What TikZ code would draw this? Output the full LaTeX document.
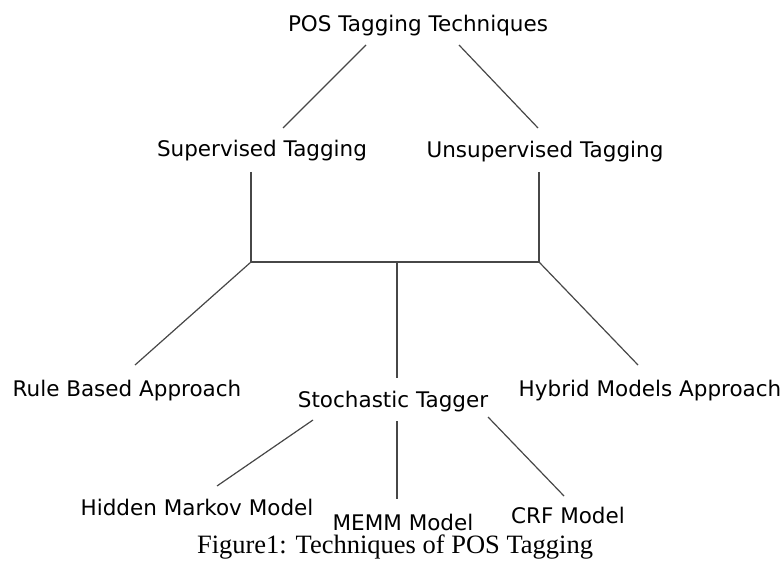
\documentclass[tikz,border=0pt]{standalone}
\usepackage{fontspec}
\setmainfont{DejaVu Sans}
\newfontfamily\capfont{Liberation Serif}
\begin{document}
\begin{tikzpicture}[x=1pt,y=-1pt,
  lbl/.style={anchor=base,inner sep=0pt,font=\fontsize{21.5}{25}\selectfont,text=black},
  conn/.style={draw=black!72,line width=1.2pt}]
\useasboundingbox (0,0) rectangle (781,561);
% text nodes
\node[lbl] (title) at (418,32) {POS Tagging Techniques};
\node[lbl] (sup) at (262,157) {Supervised Tagging};
\node[lbl] (unsup) at (545,158) {Unsupervised Tagging};
\node[lbl] (rule) at (127,396) {Rule Based Approach};
\node[lbl] (stoch) at (393,407) {Stochastic Tagger};
\node[lbl] (hyb) at (650,396) {Hybrid Models Approach};
\node[lbl] (hmm) at (197,515) {Hidden Markov Model};
\node[lbl] (memm) at (403,530) {MEMM Model};
\node[lbl] (crf) at (568,523) {CRF Model};
\node[anchor=base,inner sep=0pt,font=\capfont\fontsize{26.5}{30}\selectfont] (cap) at (395,553) {Figure1: Techniques of POS Tagging};
% connector end points
\coordinate (tA) at (366,45);
\coordinate (sA) at (283,128);
\coordinate (tB) at (459,45);
\coordinate (uA) at (538,128);
\coordinate (sB) at (251,172);
\coordinate (jl) at (251,262);
\coordinate (uB) at (539,172);
\coordinate (jr) at (539,262);
\coordinate (jm) at (397,262);
\coordinate (stA) at (397,378);
\coordinate (rA) at (135,365);
\coordinate (hA) at (638,365);
\coordinate (stB) at (313,420);
\coordinate (hmA) at (217,486);
\coordinate (stC) at (397,421);
\coordinate (meA) at (397,499);
\coordinate (stD) at (488,417);
\coordinate (crA) at (564,496);
% connectors
\draw[conn] (tA) -- (sA);
\draw[conn] (tB) -- (uA);
\draw[conn] (sB) -- (jl);
\draw[conn] (uB) -- (jr);
\draw[conn] (jl) -- (jr);
\draw[conn] (jm) -- (stA);
\draw[conn] (jl) -- (rA);
\draw[conn] (jr) -- (hA);
\draw[conn] (stB) -- (hmA);
\draw[conn] (stC) -- (meA);
\draw[conn] (stD) -- (crA);
\end{tikzpicture}
\end{document}
